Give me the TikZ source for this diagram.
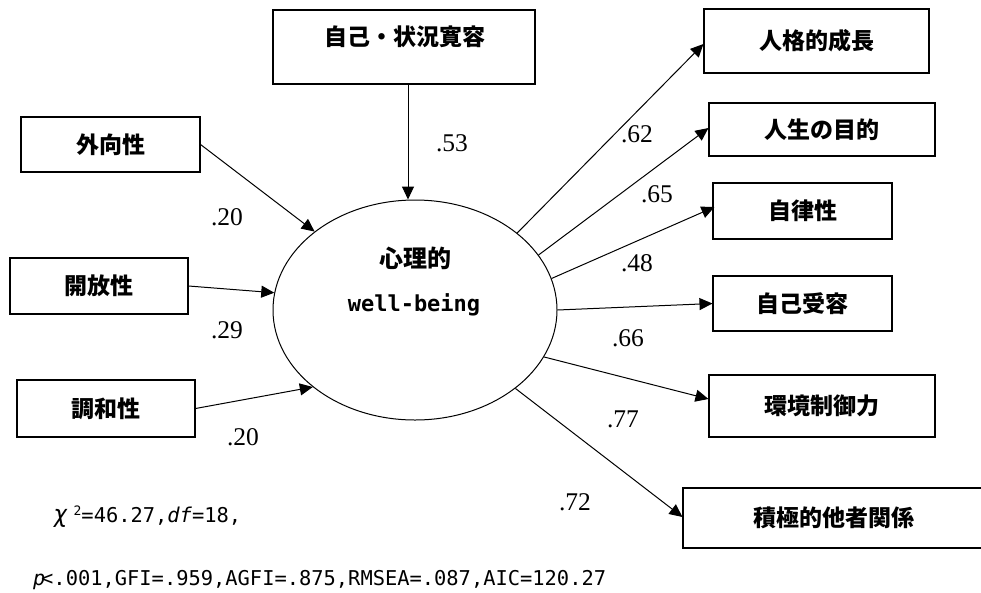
\documentclass[tikz,border=0pt]{standalone}
\usepackage{fontspec}
\usetikzlibrary{arrows.meta,shapes.geometric}
\newfontfamily\jp{Noto Sans CJK JP}
\newfontfamily\monofnt{DejaVu Sans Mono}
\newfontfamily\numfnt{Liberation Serif}
\begin{document}
\begin{tikzpicture}[x=1pt,y=-1pt,
  box/.style={draw,line width=1.1pt,inner sep=0pt,font=\jp\bfseries\fontsize{23}{26}\selectfont},
  lbl/.style={inner sep=0pt,font=\jp\bfseries\fontsize{23}{26}\selectfont},
  coef/.style={inner sep=0pt,font=\numfnt\fontsize{25.5}{28}\selectfont},
  arr/.style={line width=1pt,-{Triangle[length=13pt,width=12pt]}},
  stat/.style={inner sep=0pt,anchor=west,font=\monofnt\fontsize{20.4}{24}\selectfont}]
\useasboundingbox (0,0) rectangle (981,592);
% latent variable
\node[draw,ellipse,line width=1pt,minimum width=284pt,minimum height=220pt,inner sep=0pt] (wb) at (415,310) {};
\node[lbl,font=\jp\bfseries\fontsize{24}{26}\selectfont] (wbt1) at (415,258) {心理的};
\node[inner sep=0pt,font=\monofnt\bfseries\fontsize{22}{24}\selectfont] (wbt2) at (414,305) {well-bein\rlap{g}\phantom{g}};
% top box
\node[box,minimum width=262pt,minimum height=74pt] (top) at (404,47) {};
\node[lbl] (toplbl) at (405,37) {自己・状況寛容};
% left boxes
\node[box,minimum width=179pt,minimum height=55pt] (ext) at (110.5,144.5) {外向性};
\node[box,minimum width=178pt,minimum height=56pt] (opn) at (99,286) {開放性};
\node[box,minimum width=178pt,minimum height=57pt] (agr) at (106,408.5) {調和性};
% right boxes
\node[box,minimum width=225pt,minimum height=64pt] (pg) at (816.5,41) {人格的成長};
\node[box,minimum width=226pt,minimum height=53pt] (pl) at (822,129.5) {人生の目的};
\node[box,minimum width=179pt,minimum height=56pt] (au) at (802.5,211) {自律性};
\node[box,minimum width=179pt,minimum height=55pt] (sa) at (802.5,303.5) {自己受容};
\node[box,minimum width=226pt,minimum height=62pt] (em) at (822,406) {環境制御力};
\node[box,minimum width=307pt,minimum height=60pt,text width=300pt,align=center] (pr) at (836.5,518) {\hspace*{-6pt}積極的他者関係};
% paths in
\draw[arr] ([xshift=4pt]top.south) -- ([xshift=4pt]top.south |- wb.north);
\draw[arr] (ext.east) -- (wb.142.5);
\draw[arr] (opn.east) -- (wb.173);
\draw[arr] (agr.east) -- (wb.217.4);
% paths out
\draw[arr] (wb.37) -- ([yshift=-3pt]pg.west);
\draw[arr] (wb.24.5) -- ([yshift=1.5pt]pl.west);
\draw[arr] (wb.13.8) -- ([xshift=2pt,yshift=4pt]au.west);
\draw[arr] (wb.0) -- (sa.west);
\draw[arr] (wb.-20.6) -- ([yshift=7pt]em.west);
\draw[arr] (wb.-38.3) -- ([yshift=1pt]pr.west);
% coefficients
\node[coef] (c53) at (452,143) {.53};
\node[coef] (c20a) at (227,217) {.20};
\node[coef] (c29) at (227,330) {.29};
\node[coef] (c20b) at (243,437) {.20};
\node[coef] (c62) at (637,134) {.62};
\node[coef] (c65) at (657,194) {.65};
\node[coef] (c48) at (637,263) {.48};
\node[coef] (c66) at (628,338) {.66};
\node[coef] (c77) at (623,419) {.77};
\node[coef] (c72) at (575,502) {.72};
% fit statistics
\node[stat] (fit1) at (53,517) {{\itshape\fontsize{24}{24}\selectfont χ}\hspace*{6pt}\raisebox{7pt}{\fontsize{13}{13}\selectfont 2}=46.27,{\itshape df}=18,};
\node[stat] (fit2) at (33,580) {\rlap{\itshape p}\hspace*{8pt}<.001,GFI=.959,AGFI=.875,RMSEA=.087,AIC=120.27};
\end{tikzpicture}
\end{document}
